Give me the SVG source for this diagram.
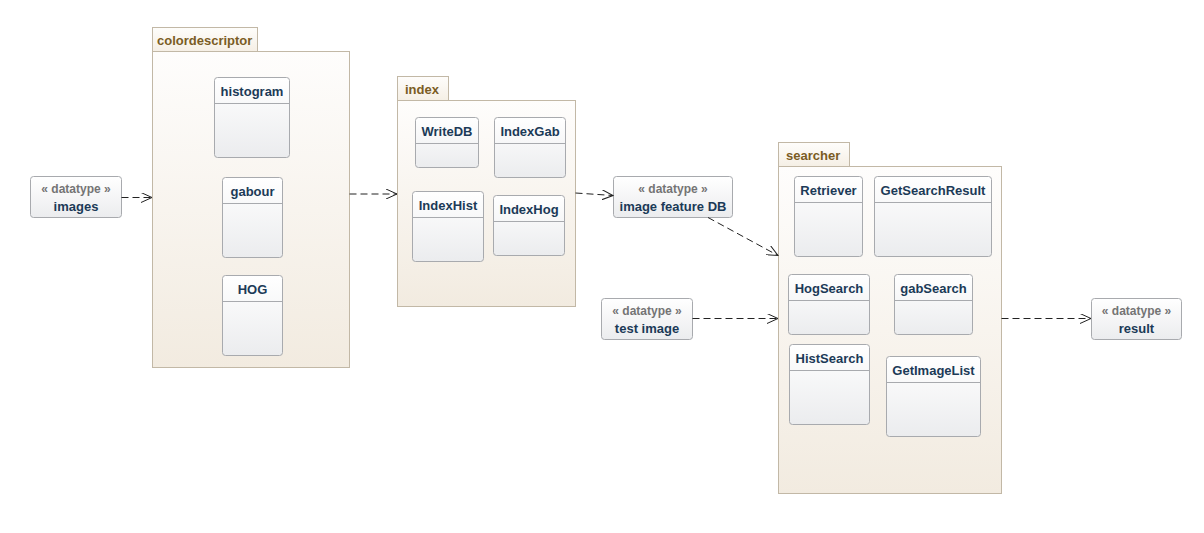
<svg xmlns="http://www.w3.org/2000/svg" width="1204" height="533" viewBox="0 0 1204 533">
<defs>
<linearGradient id="pkg" x1="0" y1="0" x2="0" y2="1">
<stop offset="0" stop-color="#fefdfc"/>
<stop offset="1" stop-color="#f2ebe0"/>
</linearGradient>
<linearGradient id="tab" x1="0" y1="0" x2="0" y2="1">
<stop offset="0" stop-color="#fefdfb"/>
<stop offset="1" stop-color="#f5efe5"/>
</linearGradient>
<linearGradient id="cls" x1="0" y1="0" x2="0" y2="1">
<stop offset="0" stop-color="#ffffff"/>
<stop offset="1" stop-color="#ebecee"/>
</linearGradient>
<marker id="arr" viewBox="0 0 12 10" refX="11" refY="5" markerWidth="12" markerHeight="10" markerUnits="userSpaceOnUse" orient="auto">
<path d="M0,0 L11,5 L0,10" fill="none" stroke="#222" stroke-width="1"/>
</marker>
<style>
.pkg{fill:url(#pkg);stroke:#c2b8a6;stroke-width:1}
.tab{fill:url(#tab);stroke:#c2b8a6;stroke-width:1}
.ptxt{font-family:"Liberation Sans",Arial,sans-serif;font-weight:bold;font-size:13px;fill:#7a5c24}
.cls{fill:url(#cls);stroke:#a8aaae;stroke-width:1}
.sep{stroke:#a8aaae;stroke-width:1}
.ctxt{font-family:"Liberation Sans",Arial,sans-serif;font-weight:bold;font-size:13px;fill:#1b3a57;text-anchor:middle}
.st{font-family:"Liberation Sans",Arial,sans-serif;font-weight:bold;font-size:12px;fill:#747474;text-anchor:middle}
.dep{fill:none;stroke:#222;stroke-width:1;stroke-dasharray:7,4;marker-end:url(#arr)}
</style>
</defs>
<rect width="1204" height="533" fill="#ffffff"/>

<g id="colordescriptor">
<rect class="tab" x="152.5" y="27.5" width="105" height="24"/>
<rect class="pkg" x="152.5" y="51.5" width="197" height="316"/>
<text class="ptxt" x="157" y="45">colordescriptor</text>
</g>
<g id="histogram">
<rect class="cls" x="214.5" y="77.5" width="75" height="80" rx="3"/>
<line class="sep" x1="214.5" y1="103.5" x2="289.5" y2="103.5"/>
<text class="ctxt" x="252" y="96">histogram</text>
</g>
<g id="gabour">
<rect class="cls" x="222.5" y="177.5" width="60" height="80" rx="3"/>
<line class="sep" x1="222.5" y1="203.5" x2="282.5" y2="203.5"/>
<text class="ctxt" x="252.5" y="196">gabour</text>
</g>
<g id="HOG">
<rect class="cls" x="222.5" y="275.5" width="60" height="80" rx="3"/>
<line class="sep" x1="222.5" y1="301.5" x2="282.5" y2="301.5"/>
<text class="ctxt" x="252.5" y="294">HOG</text>
</g>

<g id="index">
<rect class="tab" x="397.5" y="76.5" width="51" height="24"/>
<rect class="pkg" x="397.5" y="100.5" width="178" height="206"/>
<text class="ptxt" x="405" y="94">index</text>
</g>
<g id="WriteDB">
<rect class="cls" x="415.5" y="117.5" width="63" height="50" rx="3"/>
<line class="sep" x1="415.5" y1="143.5" x2="478.5" y2="143.5"/>
<text class="ctxt" x="447" y="136">WriteDB</text>
</g>
<g id="IndexGab">
<rect class="cls" x="494.5" y="117.5" width="71" height="60" rx="3"/>
<line class="sep" x1="494.5" y1="143.5" x2="565.5" y2="143.5"/>
<text class="ctxt" x="530" y="136">IndexGab</text>
</g>
<g id="IndexHist">
<rect class="cls" x="412.5" y="191.5" width="71" height="70" rx="3"/>
<line class="sep" x1="412.5" y1="217.5" x2="483.5" y2="217.5"/>
<text class="ctxt" x="448" y="210">IndexHist</text>
</g>
<g id="IndexHog">
<rect class="cls" x="493.5" y="195.5" width="71" height="60" rx="3"/>
<line class="sep" x1="493.5" y1="221.5" x2="564.5" y2="221.5"/>
<text class="ctxt" x="529" y="214">IndexHog</text>
</g>

<g id="searcher">
<rect class="tab" x="778.5" y="142.5" width="71" height="24"/>
<rect class="pkg" x="778.5" y="166.5" width="223" height="327"/>
<text class="ptxt" x="786" y="160">searcher</text>
</g>
<g id="Retriever">
<rect class="cls" x="794.5" y="176.5" width="68" height="80" rx="3"/>
<line class="sep" x1="794.5" y1="202.5" x2="862.5" y2="202.5"/>
<text class="ctxt" x="828.5" y="195">Retriever</text>
</g>
<g id="GetSearchResult">
<rect class="cls" x="874.5" y="176.5" width="117" height="80" rx="3"/>
<line class="sep" x1="874.5" y1="202.5" x2="991.5" y2="202.5"/>
<text class="ctxt" x="933" y="195">GetSearchResult</text>
</g>
<g id="HogSearch">
<rect class="cls" x="788.5" y="274.5" width="81" height="60" rx="3"/>
<line class="sep" x1="788.5" y1="300.5" x2="869.5" y2="300.5"/>
<text class="ctxt" x="829" y="293">HogSearch</text>
</g>
<g id="gabSearch">
<rect class="cls" x="894.5" y="274.5" width="78" height="60" rx="3"/>
<line class="sep" x1="894.5" y1="300.5" x2="972.5" y2="300.5"/>
<text class="ctxt" x="933.5" y="293">gabSearch</text>
</g>
<g id="HistSearch">
<rect class="cls" x="789.5" y="344.5" width="80" height="80" rx="3"/>
<line class="sep" x1="789.5" y1="370.5" x2="869.5" y2="370.5"/>
<text class="ctxt" x="829.5" y="363">HistSearch</text>
</g>
<g id="GetImageList">
<rect class="cls" x="886.5" y="356.5" width="94" height="80" rx="3"/>
<line class="sep" x1="886.5" y1="382.5" x2="980.5" y2="382.5"/>
<text class="ctxt" x="933.5" y="375">GetImageList</text>
</g>

<g id="images">
<rect class="cls" x="30.5" y="176.5" width="91" height="41" rx="3"/>
<text class="st" x="76" y="193">« datatype »</text>
<text class="ctxt" x="76" y="211">images</text>
</g>
<g id="imagefeatureDB">
<rect class="cls" x="613.5" y="176.5" width="119" height="41" rx="3"/>
<text class="st" x="673" y="193">« datatype »</text>
<text class="ctxt" x="673" y="211">image feature DB</text>
</g>
<g id="testimage">
<rect class="cls" x="601.5" y="298.5" width="91" height="41" rx="3"/>
<text class="st" x="647" y="315">« datatype »</text>
<text class="ctxt" x="647" y="333">test image</text>
</g>
<g id="result">
<rect class="cls" x="1091.5" y="298.5" width="90" height="41" rx="3"/>
<text class="st" x="1136.5" y="315">« datatype »</text>
<text class="ctxt" x="1136.5" y="333">result</text>
</g>

<g id="connectors">
<path class="dep" d="M121.5,197.5 L152,197.5"/>
<path class="dep" d="M349.5,194 L397,194"/>
<path class="dep" d="M575.5,193 L613,195.5"/>
<path class="dep" d="M708,217.5 L778,255.5"/>
<path class="dep" d="M692.5,318.5 L778,318.5"/>
<path class="dep" d="M1001.5,318.5 L1091,318.5"/>
</g>
</svg>
